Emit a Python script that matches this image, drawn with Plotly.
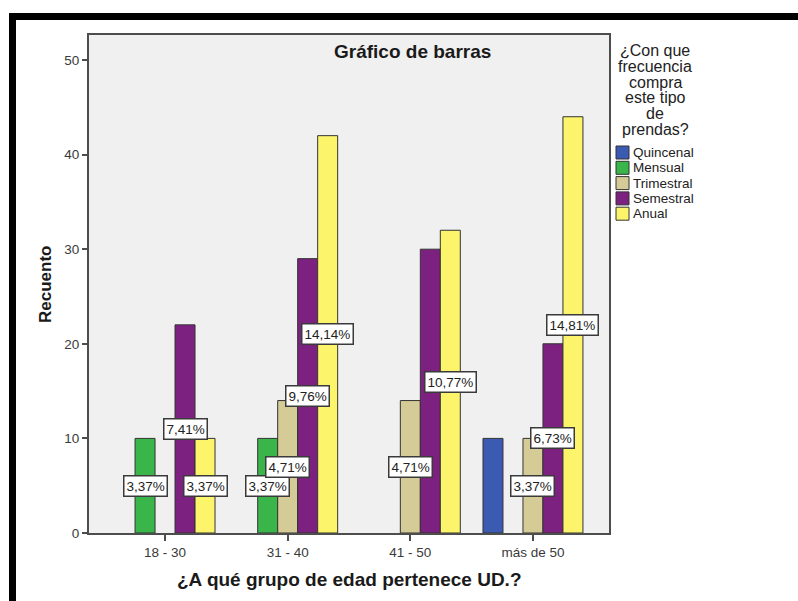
import plotly.graph_objects as go

# Age groups and purchase-frequency counts
categories = ["18 - 30", "31 - 40", "41 - 50", "más de 50"]
series_names = ["Quincenal", "Mensual", "Trimestral", "Semestral", "Anual"]
quincenal = [None, None, None, 10]
mensual = [10, 10, None, None]
trimestral = [None, 14, 14, 10]
semestral = [22, 29, 30, 20]
anual = [10, 42, 32, 44]

# Which bars carry a percentage label
labels_quincenal = [False, False, False, False]
labels_mensual = [True, True, False, False]
labels_trimestral = [False, True, True, True]
labels_semestral = [True, True, False, True]
labels_anual = [True, True, True, True]

y_ticks = [0, 10, 20, 30, 40, 50]

series_values = [quincenal, mensual, trimestral, semestral, anual]
series_labels = [labels_quincenal, labels_mensual, labels_trimestral,
                 labels_semestral, labels_anual]
colors = ["#3b5bb3", "#39b54a", "#d5cb96", "#7d2180", "#fcf56b"]

total = sum(v for vals in series_values for v in vals if v is not None)

W, H = 798, 601
L, R, T, B = 89, 189, 35, 68
pw, ph = W - L - R, H - T - B
BARGAP = 0.185
n_series = len(series_names)
bar_w = (1 - BARGAP) / n_series


def px(x):
    return (x - L) / pw


def py(y):
    return (H - B - y) / ph


fig = go.Figure()
for name, vals, col in zip(series_names, series_values, colors):
    fig.add_trace(go.Bar(
        name=name, x=categories, y=vals,
        marker=dict(color=col, line=dict(color="#333333", width=1)),
        showlegend=False,
    ))

annotations = []

# Percentage labels centred on each labelled bar, at half its height
for j, (vals, flags) in enumerate(zip(series_values, series_labels)):
    for i, (v, show) in enumerate(zip(vals, flags)):
        if v is None or not show:
            continue
        pct = f"{v / total * 100:.2f}".replace(".", ",") + "%"
        annotations.append(dict(
            x=i + (j - (n_series - 1) / 2) * bar_w, y=v / 2,
            xref="x", yref="y", text=pct, showarrow=False,
            font=dict(size=13.5, color="#222222"),
            bgcolor="white", bordercolor="#3a3a3a", borderwidth=1.5, borderpad=2,
        ))

# Title inside the plot frame
annotations.append(dict(
    x=px(412), y=py(52), xref="paper", yref="paper",
    text="<b>Gráfico de barras</b>", showarrow=False,
    font=dict(size=19, color="#1a1a1a"), xanchor="center", yanchor="middle",
))
# Axis titles
annotations.append(dict(
    x=px(45), y=py(285), xref="paper", yref="paper",
    text="<b>Recuento</b>", showarrow=False, textangle=-90,
    font=dict(size=17, color="#1a1a1a"), xanchor="center", yanchor="middle",
))
annotations.append(dict(
    x=px(349), y=py(579), xref="paper", yref="paper",
    text="<b>¿A qué grupo de edad pertenece UD.?</b>", showarrow=False,
    font=dict(size=19, color="#1a1a1a"), xanchor="center", yanchor="middle",
))

# Legend title, one line per annotation for tight spacing
legend_title_lines = ["¿Con que", "frecuencia", "compra", "este tipo", "de", "prendas?"]
for k, line in enumerate(legend_title_lines):
    annotations.append(dict(
        x=px(655), y=py(51 + k * 15.6), xref="paper", yref="paper",
        text=line, showarrow=False, font=dict(size=16, color="#222222"),
        xanchor="center", yanchor="middle",
    ))

shapes = []
# Legend entries
for k, (name, col) in enumerate(zip(series_names, colors)):
    yc = 152.5 + k * 15.3
    shapes.append(dict(
        type="rect", xref="paper", yref="paper",
        x0=px(616), x1=px(629), y0=py(yc - 6.5), y1=py(yc + 6.5),
        fillcolor=col, line=dict(color="#333333", width=1),
    ))
    annotations.append(dict(
        x=px(631), y=py(yc), xref="paper", yref="paper",
        text=name, showarrow=False, font=dict(size=13.5, color="#222222"),
        xanchor="left", yanchor="middle",
    ))

# Heavy black frame along the top and left edges of the page
shapes.append(dict(type="rect", xref="paper", yref="paper",
                   x0=px(9), x1=px(798), y0=py(13), y1=py(20),
                   fillcolor="black", line=dict(width=0), layer="above"))
shapes.append(dict(type="rect", xref="paper", yref="paper",
                   x0=px(9), x1=px(16), y0=py(13), y1=py(601),
                   fillcolor="black", line=dict(width=0), layer="above"))

fig.update_layout(
    width=W, height=H,
    margin=dict(l=L, r=R, t=T, b=B, pad=0),
    paper_bgcolor="white", plot_bgcolor="#f0f0f0",
    font=dict(family="Liberation Sans, Arial, sans-serif", color="#333333"),
    barmode="group", bargap=BARGAP, bargroupgap=0,
    showlegend=False,
    annotations=annotations, shapes=shapes,
    xaxis=dict(
        type="category", range=[-0.62, 3.62],
        showline=True, linecolor="#4d4d4d", linewidth=2, mirror=True,
        ticks="outside", ticklen=6, tickwidth=1.5, tickcolor="#4d4d4d",
        tickfont=dict(size=13.5, color="#3a3a3a"),
        showgrid=False, zeroline=False,
    ),
    yaxis=dict(
        range=[0, 52.64], tickvals=y_ticks,
        showline=True, linecolor="#4d4d4d", linewidth=2, mirror=True,
        ticks="outside", ticklen=5, tickwidth=1.5, tickcolor="#4d4d4d",
        tickfont=dict(size=13.5, color="#3a3a3a"),
        showgrid=False, zeroline=False,
    ),
)

fig.write_html("out.html")
